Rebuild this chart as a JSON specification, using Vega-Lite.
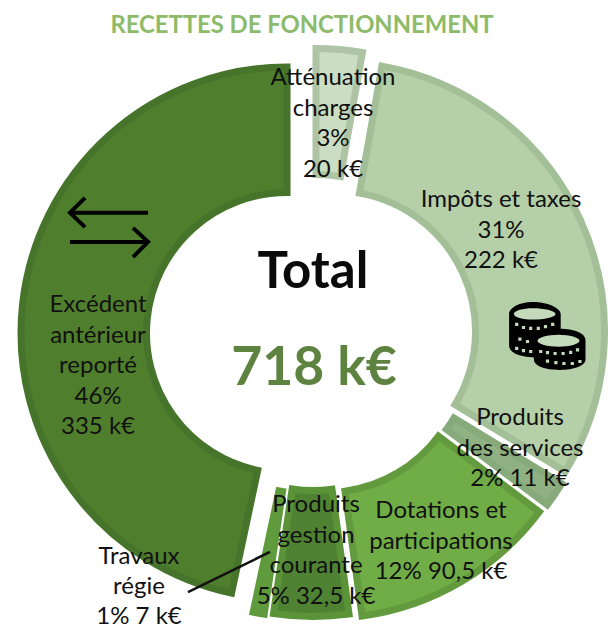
{"$schema":"https://vega.github.io/schema/vega-lite/v6.json","width":611,"height":629,"padding":0,"autosize":{"type":"none"},"background":"white","view":{"stroke":null},
"layer":[
{"data":{"values":[
{"poste":"Atténuation charges","valeur":20,"libelle":"Atténuation\ncharges\n3%\n20 k€"},
{"poste":"Impôts et taxes","valeur":222,"libelle":"Impôts et taxes\n31%\n222 k€"},
{"poste":"Produits des services","valeur":11,"libelle":"Produits\ndes services\n2%  11 k€"},
{"poste":"Dotations et participations","valeur":90.5,"libelle":"Dotations et\nparticipations\n12%  90,5 k€"},
{"poste":"Produits gestion courante","valeur":32.5,"libelle":"Produits\ngestion\ncourante\n5% 32,5 k€"},
{"poste":"Travaux régie","valeur":7,"libelle":"Travaux\nrégie\n1%  7 k€"},
{"poste":"Excédent antérieur reporté","valeur":335,"libelle":"Excédent\nantérieur\nreporté\n46%\n335 k€"}
]},
"transform":[{"stack":"valeur","groupby":[],"as":["debut","fin"]}],
"layer":[
{"transform":[{"filter":"datum.poste==='Atténuation charges'"}],"mark":{"type":"arc","radius":266.5,"radius2":140.5,"xOffset":10.5,"yOffset":0.5,"fill":"#CBDDC2","stroke":"#AEC4A4","strokeWidth":7,"strokeJoin":"miter"},"encoding":{"theta":{"field":"debut","type":"quantitative","scale":{"domain":[0,718],"range":[0,6.28318]}},"theta2":{"field":"fin"}}},
{"transform":[{"filter":"datum.poste==='Impôts et taxes'"}],"mark":{"type":"arc","radius":269.5,"radius2":140.5,"xOffset":29.5,"yOffset":17,"fill":"#B5CFA8","stroke":"#A3BF97","strokeWidth":7,"strokeJoin":"miter"},"encoding":{"theta":{"field":"debut","type":"quantitative","scale":{"domain":[0,718],"range":[0,6.28318]}},"theta2":{"field":"fin"}}},
{"transform":[{"filter":"datum.poste==='Produits des services'"}],"mark":{"type":"arc","radius":266.5,"radius2":140.5,"xOffset":28.5,"yOffset":30.5,"fill":"#90B283","stroke":"#87AA7A","strokeWidth":7,"strokeJoin":"miter"},"encoding":{"theta":{"field":"debut","type":"quantitative","scale":{"domain":[0,718],"range":[0,6.28318]}},"theta2":{"field":"fin"}}},
{"transform":[{"filter":"datum.poste==='Dotations et participations'"}],"mark":{"type":"arc","radius":266.5,"radius2":140.5,"xOffset":20.5,"yOffset":37.5,"fill":"#70AD47","stroke":"#629A3D","strokeWidth":7,"strokeJoin":"miter"},"encoding":{"theta":{"field":"debut","type":"quantitative","scale":{"domain":[0,718],"range":[0,6.28318]}},"theta2":{"field":"fin"}}},
{"transform":[{"filter":"datum.poste==='Produits gestion courante'"}],"mark":{"type":"arc","radius":266.5,"radius2":140.5,"xOffset":7.5,"yOffset":35.5,"fill":"#4F8233","stroke":"#5B9339","strokeWidth":7,"strokeJoin":"miter"},"encoding":{"theta":{"field":"debut","type":"quantitative","scale":{"domain":[0,718],"range":[0,6.28318]}},"theta2":{"field":"fin"}}},
{"transform":[{"filter":"datum.poste==='Travaux régie'"}],"mark":{"type":"arc","radius":268,"radius2":139,"xOffset":0.5,"yOffset":37.5,"fill":"#5F9A3C","stroke":"#5F9A3C","strokeWidth":2,"strokeJoin":"miter"},"encoding":{"theta":{"field":"debut","type":"quantitative","scale":{"domain":[0,718],"range":[0,6.28318]}},"theta2":{"field":"fin"}}},
{"transform":[{"filter":"datum.poste==='Excédent antérieur reporté'"}],"mark":{"type":"arc","radius":266,"radius2":140.5,"xOffset":-18.5,"yOffset":18.5,"fill":"#4F7F2C","stroke":"#47742B","strokeWidth":7,"strokeJoin":"miter"},"encoding":{"theta":{"field":"debut","type":"quantitative","scale":{"domain":[0,718],"range":[0,6.28318]}},"theta2":{"field":"fin"}}},
{"transform":[{"filter":"datum.poste==='Atténuation charges'"}],"mark":{"type":"text","font":"Lato","fontSize":24,"lineBreak":"\n","lineHeight":30.5,"color":"#111111","align":"center","baseline":"middle","dx":27.5,"dy":-236.5},"encoding":{"text":{"field":"libelle"}}},
{"transform":[{"filter":"datum.poste==='Impôts et taxes'"}],"mark":{"type":"text","font":"Lato","fontSize":24,"lineBreak":"\n","lineHeight":30.5,"color":"#111111","align":"center","baseline":"middle","dx":195.5,"dy":-114.5},"encoding":{"text":{"field":"libelle"}}},
{"transform":[{"filter":"datum.poste==='Produits des services'"}],"mark":{"type":"text","font":"Lato","fontSize":24,"lineBreak":"\n","lineHeight":30.5,"color":"#111111","align":"center","baseline":"middle","dx":214.5,"dy":103.5},"encoding":{"text":{"field":"libelle"}}},
{"transform":[{"filter":"datum.poste==='Dotations et participations'"}],"mark":{"type":"text","font":"Lato","fontSize":24,"lineBreak":"\n","lineHeight":30.5,"color":"#111111","align":"center","baseline":"middle","dx":135.5,"dy":196.5},"encoding":{"text":{"field":"libelle"}}},
{"transform":[{"filter":"datum.poste==='Produits gestion courante'"}],"mark":{"type":"text","font":"Lato","fontSize":24,"lineBreak":"\n","lineHeight":30.5,"color":"#111111","align":"center","baseline":"middle","dx":10.5,"dy":190.5},"encoding":{"text":{"field":"libelle"}}},
{"transform":[{"filter":"datum.poste==='Travaux régie'"}],"mark":{"type":"text","font":"Lato","fontSize":24,"lineBreak":"\n","lineHeight":30,"color":"#111111","align":"center","baseline":"middle","dx":-166.5,"dy":242.5},"encoding":{"text":{"field":"libelle"}}},
{"transform":[{"filter":"datum.poste==='Excédent antérieur reporté'"}],"mark":{"type":"text","font":"Lato","fontSize":24,"lineBreak":"\n","lineHeight":30.5,"color":"#111111","align":"center","baseline":"middle","dx":-207.5,"dy":-9.5},"encoding":{"text":{"field":"libelle"}}}
]},
{"data":{"values":[{"titre":"RECETTES DE FONCTIONNEMENT","total":"Total","montant":"718 k€"}]},
"layer":[
{"mark":{"type":"text","font":"Lato","fontSize":23.8,"fontWeight":"bold","color":"#8DBB6A","align":"center","baseline":"middle","dx":-3.5,"dy":-288.5},"encoding":{"text":{"field":"titre"}}},
{"mark":{"type":"text","font":"Lato","fontSize":51,"fontWeight":"bold","color":"#0A0A0A","align":"center","baseline":"middle","dx":7.5,"dy":-41.5},"encoding":{"text":{"field":"total"}}},
{"mark":{"type":"text","font":"Lato","fontSize":53.5,"fontWeight":"bold","color":"#5E8240","align":"center","baseline":"middle","dx":8.5,"dy":54.5},"encoding":{"text":{"field":"montant"}}},
{"mark":{"type":"point","shape":"M0.975,-0.37 L-0.975,-0.37 M-0.6,-0.74 L-0.975,-0.37 L-0.6,-0.01 M-0.975,0.36 L0.975,0.36 M0.6,0.01 L0.975,0.36 L0.6,0.74","size":6400,"filled":false,"stroke":"#000000","strokeWidth":4,"opacity":1,"xOffset":-196.5,"yOffset":-87},"encoding":{}},
{"mark":{"type":"point","shape":"M-1,0.49 L1,-0.49","size":6724,"filled":false,"stroke":"#111111","strokeWidth":2.5,"opacity":1,"xOffset":-76.5,"yOffset":257.5},"encoding":{}},
{"mark":{"type":"point","shape":"M-0.91,-0.54 C-0.91,-0.7 -0.64,-0.84 -0.31,-0.84 C0.02,-0.84 0.38,-0.7 0.38,-0.54 L0.38,0.2 L-0.2,0.55 C-0.6,0.55 -0.91,0.45 -0.91,0.25 Z M-0.29,0.11 C-0.29,-0.06 -0.02,-0.17 0.36,-0.17 C0.7,-0.17 1,-0.06 1,0.11 L1,0.6 C1,0.76 0.7,0.86 0.36,0.86 C-0.02,0.86 -0.29,0.76 -0.29,0.6 Z","size":6400,"filled":true,"fill":"#000000","opacity":1,"xOffset":240,"yOffset":21},"encoding":{}},
{"mark":{"type":"point","shape":"M-0.79,-0.54 C-0.79,-0.62 -0.57,-0.68 -0.31,-0.68 C-0.05,-0.68 0.25,-0.62 0.25,-0.54 C0.25,-0.46 -0.05,-0.4 -0.31,-0.4 C-0.57,-0.4 -0.79,-0.46 -0.79,-0.54 Z M-0.2,0.13 C-0.2,0.05 0.05,-0.02 0.33,-0.02 C0.6,-0.02 0.85,0.05 0.85,0.13 C0.85,0.21 0.6,0.28 0.33,0.28 C0.05,0.28 -0.2,0.21 -0.2,0.13 Z M-0.76,-0.32h0.08v0.08h-0.08z M-0.59,-0.24h0.08v0.08h-0.08z M-0.41,-0.22h0.08v0.08h-0.08z M-0.22,-0.22h0.08v0.08h-0.08z M-0.04,-0.26h0.08v0.08h-0.08z M0.14,-0.32h0.08v0.08h-0.08z M-0.68,0.05h0.08v0.08h-0.08z M-0.49,0.11h0.08v0.08h-0.08z M-0.76,0.28h0.08v0.08h-0.08z M-0.59,0.34h0.08v0.08h-0.08z M-0.41,0.36h0.08v0.08h-0.08z M-0.16,0.36h0.08v0.08h-0.08z M0.01,0.39h0.08v0.08h-0.08z M0.2,0.41h0.08v0.08h-0.08z M0.4,0.41h0.08v0.08h-0.08z M0.59,0.38h0.08v0.08h-0.08z M0.76,0.32h0.08v0.08h-0.08z M0.01,0.6h0.08v0.08h-0.08z M0.22,0.64h0.08v0.08h-0.08z M0.42,0.66h0.08v0.08h-0.08z M0.63,0.66h0.08v0.08h-0.08z M0.82,0.61h0.08v0.08h-0.08z","size":6400,"filled":true,"fill":"#C5DABA","opacity":1,"xOffset":240,"yOffset":21},"encoding":{}}
]}
]}
